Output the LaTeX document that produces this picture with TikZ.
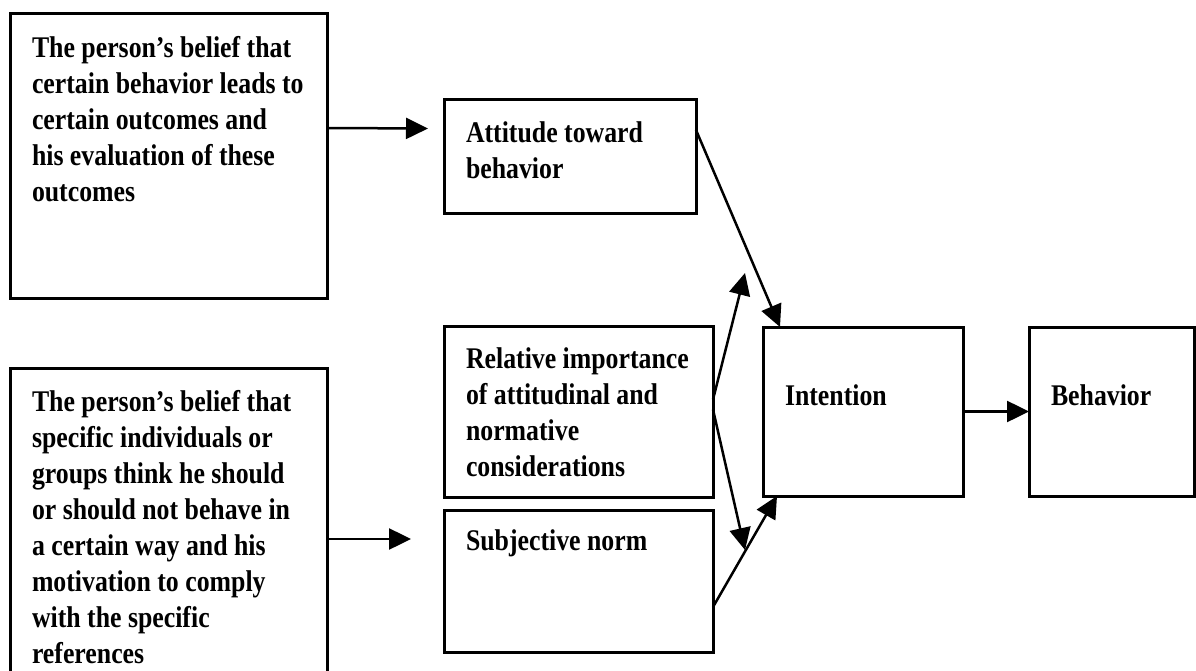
\documentclass[tikz,border=0pt]{standalone}
\usepackage{fontspec}
\setmainfont{Liberation Serif}[FakeStretch=0.86]
\usepackage{tikz}
\usetikzlibrary{positioning}
\usetikzlibrary{arrows.meta}
\newcommand{\boxtext}[4]{\hspace*{22pt}\parbox[c][#2][t]{\dimexpr#1-22pt\relax}{\vspace*{#3}\raggedright #4}}

\begin{document}
\begin{tikzpicture}[x=1pt, y=-1pt,
    box/.style = {draw, line width=3pt, inner sep=0pt, outer sep=0pt, anchor=north west, font=\fontsize{30}{36}\selectfont\bfseries},
    arr/.style = {line width=2.5pt, -{Triangle[length=22pt,width=21pt]}}]
    \useasboundingbox (0,0) rectangle (1196,671);
    \clip (0,0) rectangle (1196,671);
    \node[box] (belief) at (10,14) {\boxtext{317pt}{284pt}{22pt}{The person’s belief that\\certain behavior leads to\\certain outcomes and\\his evaluation of these\\outcomes}};
    \node[below right=70pt and 0pt of belief.south west, box] (norms) {\boxtext{317pt}{322pt}{22pt}{The person’s belief that\\specific individuals or\\groups think he should\\or should not behave in\\a certain way and his\\motivation to comply\\with the specific\\references}};
    \node[box] (att) at (444,100) {\boxtext{252pt}{113pt}{22pt}{Attitude toward\\behavior}};
    \node[below right=113pt and 0pt of att.south west, box] (rel) {\boxtext{269pt}{171pt}{22pt}{Relative importance\\of attitudinal and\\normative\\considerations}};
    \node[below right=13pt and 0pt of rel.south west, box] (subj) {\boxtext{269pt}{142pt}{20pt}{Subjective norm}};
    \node[box] (intent) at (763,327) {\boxtext{200pt}{169pt}{58pt}{Intention}};
    \node[below right=0pt and 66pt of intent.north east, box] (behav) {\boxtext{165pt}{169pt}{58pt}{Behavior}};
    \coordinate (upend) at (745,273);
    \coordinate (downend) at (745,550);
    \draw[arr] ([yshift=28pt]belief.east) -- ([xshift=-16pt,yshift=28pt]att.west);
    \draw[arr] ([yshift=-10pt]norms.east) -- ([xshift=-33pt,yshift=42pt]subj.west);
    \draw[arr] ([yshift=-30pt]att.north east) -- ([xshift=17pt]intent.north west);
    \draw[arr] ([yshift=12pt]rel.east) -- (upend);
    \draw[arr] ([yshift=2pt]rel.east) -- (downend);
    \draw[arr] ([yshift=-26pt]subj.east) -- ([xshift=14pt]intent.south west);
    \draw[arr] (intent.east) -- (behav.west);
\end{tikzpicture}
\end{document}
